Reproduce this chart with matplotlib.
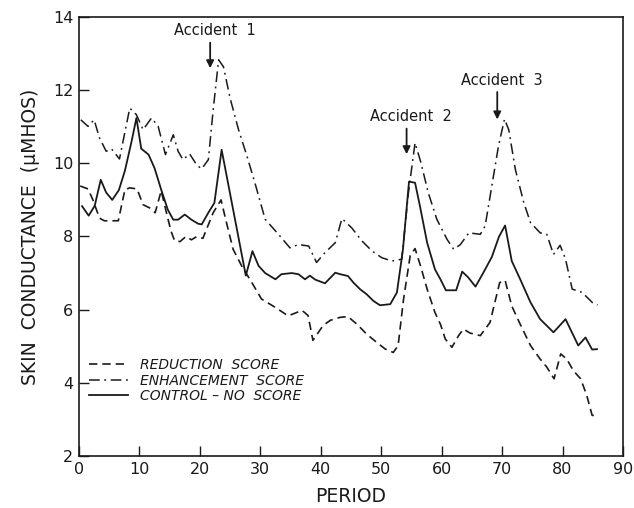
import matplotlib
matplotlib.use("Agg")
import matplotlib.pyplot as plt

plt.rcParams['font.family'] = ['DejaVu Sans']

# ---- data ----
reduction_period = [0.2, 1.5, 2.3, 3.4, 4.2, 6.5, 7.6, 8.4, 9.6, 10.6, 11.7, 12.6, 13.6, 14.6, 15.2, 15.8,
                    16.7, 17.7, 18.6, 19.5, 20.5, 22.2, 23.5, 24.4, 25.5, 26.9, 28.6, 30.2, 32.5, 34.6,
                    36.9, 37.9, 38.7, 40.4, 41.6, 43.2, 44.5, 46.0, 47.6, 49.3, 50.7, 52.0, 52.8, 53.7,
                    54.8, 55.6, 56.5, 57.6, 58.9, 59.8, 60.6, 61.7, 62.8, 63.6, 64.7, 66.4, 68.0, 69.6,
                    70.5, 71.6, 73.0, 74.7, 76.3, 77.4, 78.6, 79.7, 80.7, 81.8, 83.0, 84.0, 84.9, 85.7]
reduction_score = [9.38, 9.30, 9.00, 8.50, 8.43, 8.43, 9.28, 9.33, 9.30, 8.87, 8.78, 8.65, 9.25, 8.56, 8.16, 7.89,
                   7.86, 8.00, 7.91, 8.00, 7.95, 8.65, 9.00, 8.38, 7.65, 7.20, 6.74, 6.29, 6.06, 5.83,
                   5.98, 5.84, 5.16, 5.57, 5.71, 5.79, 5.81, 5.60, 5.33, 5.10, 4.92, 4.83, 5.02, 6.29,
                   7.48, 7.67, 7.20, 6.56, 5.92, 5.60, 5.20, 4.97, 5.29, 5.47, 5.36, 5.29, 5.65, 6.74,
                   6.80, 6.10, 5.60, 5.02, 4.65, 4.43, 4.11, 4.79, 4.65, 4.33, 4.11, 3.66, 3.11, 3.11]

enhancement_period = [0.3, 1.5, 2.5, 3.4, 4.5, 5.4, 6.7, 8.4, 9.5, 10.6, 12.0, 13.1, 14.3, 15.6, 16.4, 17.2,
                      18.3, 19.5, 20.3, 21.4, 22.2, 23.1, 23.9, 25.0, 26.4, 27.8, 29.1, 30.8, 33.0, 34.9,
                      36.3, 38.0, 39.3, 40.7, 42.4, 43.5, 45.1, 46.8, 48.5, 50.1, 51.8, 53.4, 54.5, 55.6,
                      56.5, 57.8, 59.2, 60.9, 62.0, 63.1, 64.5, 66.4, 67.2, 68.3, 69.4, 70.4, 71.1, 72.2,
                      73.6, 74.7, 76.3, 77.4, 78.5, 79.6, 80.5, 81.6, 83.0, 83.8, 84.9, 85.8]
enhancement_score = [11.19, 11.01, 11.19, 10.69, 10.33, 10.39, 10.12, 11.51, 11.33, 10.92, 11.24, 11.01, 10.24, 10.78, 10.33, 10.10,
                     10.26, 9.95, 9.85, 10.10, 11.46, 12.83, 12.64, 11.78, 10.92, 10.19, 9.47, 8.47, 8.06, 7.69,
                     7.78, 7.74, 7.29, 7.56, 7.83, 8.49, 8.24, 7.88, 7.60, 7.42, 7.33, 7.38, 9.19, 10.56,
                     10.06, 9.19, 8.47, 7.92, 7.65, 7.78, 8.10, 8.06, 8.29, 9.38, 10.47, 11.21, 10.92, 9.83,
                     8.92, 8.38, 8.10, 8.06, 7.51, 7.76, 7.38, 6.56, 6.49, 6.38, 6.20, 6.13]

control_period = [0.5, 1.6, 2.6, 3.6, 4.5, 5.5, 6.6, 7.6, 8.7, 9.5, 10.3, 11.5, 12.5, 13.6, 14.7, 15.6,
                  16.4, 17.5, 18.6, 19.7, 20.3, 21.4, 22.4, 23.6, 27.6, 28.7, 29.7, 30.8, 32.5, 33.5,
                  35.2, 36.3, 37.4, 38.2, 39.1, 40.7, 42.4, 43.2, 44.5, 45.4, 46.5, 47.6, 48.7, 49.8,
                  51.5, 52.6, 53.6, 54.6, 55.6, 56.4, 57.6, 58.9, 59.8, 60.7, 62.4, 63.4, 64.4, 65.6,
                  66.9, 68.3, 69.5, 70.5, 71.6, 73.0, 74.7, 76.3, 78.5, 80.5, 82.6, 83.8, 84.9, 85.7]
control_score = [8.83, 8.57, 8.84, 9.55, 9.20, 9.00, 9.27, 9.80, 10.60, 11.24, 10.40, 10.24, 9.87, 9.28, 8.73, 8.46,
                 8.46, 8.60, 8.46, 8.35, 8.33, 8.65, 8.92, 10.37, 6.93, 7.60, 7.20, 7.00, 6.83, 6.97,
                 7.00, 6.97, 6.83, 6.93, 6.82, 6.72, 7.01, 6.97, 6.92, 6.74, 6.56, 6.42, 6.24, 6.12,
                 6.15, 6.47, 7.65, 9.50, 9.47, 8.84, 7.83, 7.10, 6.83, 6.53, 6.53, 7.04, 6.88, 6.63,
                 7.01, 7.44, 8.00, 8.30, 7.33, 6.83, 6.20, 5.74, 5.38, 5.74, 5.02, 5.24, 4.91, 4.92]

accident_labels = ["Accident  1", "Accident  2", "Accident  3"]
accident_period = [21.7, 54.2, 69.2]
accident_arrow_top = [13.3, 10.95, 11.95]
accident_arrow_tip = [12.6, 10.25, 11.2]

x_ticks = [0, 10, 20, 30, 40, 50, 60, 70, 80, 90]
y_ticks = [2, 4, 6, 8, 10, 12, 14]

ink = '#1a1a1a'

fig = plt.figure(figsize=(6.34, 5.08), dpi=100)
ax = fig.add_axes([0.1246, 0.1024, 0.8580, 0.8641])

ax.plot(reduction_period, reduction_score, color=ink, lw=1.2, linestyle=(0, (5, 3)),
        label='REDUCTION  SCORE')
ax.plot(enhancement_period, enhancement_score, color=ink, lw=1.1, linestyle=(0, (7, 3, 1.2, 3)),
        label='ENHANCEMENT  SCORE')
ax.plot(control_period, control_score, color=ink, lw=1.3, linestyle='-',
        label='CONTROL – NO  SCORE')

for lab, p, top, tip in zip(accident_labels, accident_period, accident_arrow_top, accident_arrow_tip):
    ax.annotate('', xy=(p, tip), xytext=(p, top),
                arrowprops=dict(arrowstyle='-|>', color=ink, lw=1.3, mutation_scale=11,
                                shrinkA=0, shrinkB=0))
    ax.text(p + 0.7, top + 0.12, lab, ha='center', va='bottom', fontsize=10.5, color=ink)

ax.set_xlim(0, 90)
ax.set_ylim(2, 14)
ax.set_xticks(x_ticks)
ax.set_yticks(y_ticks)
ax.tick_params(direction='in', length=7, width=1, labelsize=11.5, colors=ink, pad=4)
for s in ax.spines.values():
    s.set_linewidth(1.2)
    s.set_color(ink)

ax.set_xlabel('PERIOD', fontsize=13.5, color=ink, va='center')
ax.xaxis.set_label_coords(0.5, -0.093)
ax.set_ylabel('SKIN  CONDUCTANCE  (\u03bcMHOS)', fontsize=13.5, color=ink, va='center')
ax.yaxis.set_label_coords(-0.090, 0.5)

leg = ax.legend(loc='upper left', bbox_to_anchor=(0.0, 0.245), frameon=False,
                handlelength=2.8, handletextpad=0.9, labelspacing=0.1,
                prop={'style': 'italic', 'size': 10}, borderaxespad=0.3)
for t in leg.get_texts():
    t.set_color(ink)

fig.savefig('out.png', dpi=100)
